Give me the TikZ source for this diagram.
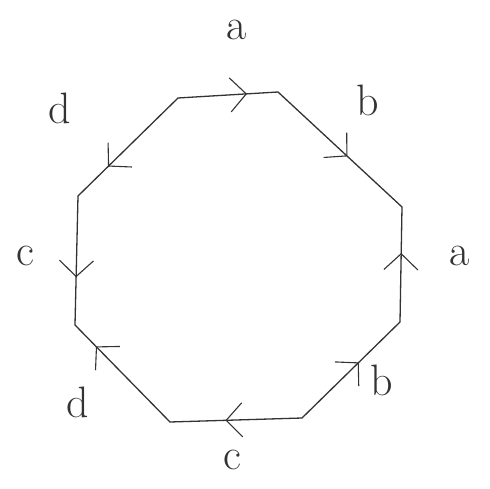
\documentclass[tikz,border=0pt]{standalone}
\usepackage{tikz}
\usetikzlibrary{arrows.meta, decorations.markings}
\tikzstyle{edge} = [draw=black!80, line width=1.3pt, line cap=round]
\tikzstyle{label} = [font=\fontsize{44}{46}\selectfont, text=black!80]
\tikzset{
  arrowat/.style={postaction={decorate}, decoration={markings,
    mark=at position #1 with {\arrow[line width=1.1pt]{Straight Barb[length=16pt, width=34pt]}}}}
}

\begin{document}
\begin{tikzpicture}[x=1pt, y=-1pt]
  \useasboundingbox (0,0) rectangle (490,489);

  % corners of the octagon
  \coordinate (v1) at (178,98);
  \coordinate (v2) at (278,92);
  \coordinate (v3) at (402,207);
  \coordinate (v4) at (400,322);
  \coordinate (v5) at (302,418);
  \coordinate (v6) at (170,422);
  \coordinate (v7) at (75,325);
  \coordinate (v8) at (78,196);

  % sides with their arrows
  \draw[edge, arrowat=0.69] (v1) -- (v2);
  \draw[edge, arrowat=0.56] (v2) -- (v3);
  \draw[edge, arrowat=0.6] (v4) -- (v3);
  \draw[edge, arrowat=0.58] (v5) -- (v4);
  \draw[edge, arrowat=0.58] (v5) -- (v6);
  \draw[edge, arrowat=0.78] (v6) -- (v7);
  \draw[edge, arrowat=0.63] (v8) -- (v7);
  \draw[edge, arrowat=0.7] (v1) -- (v8);

  % side labels
  \node[label] (la1) at (237,30) {a};
  \node[label] (lb1) at (368,100) {b};
  \node[label] (la2) at (460,256) {a};
  \node[label] (lb2) at (382,380) {b};
  \node[label] (lc1) at (232,460) {c};
  \node[label] (ld1) at (78,402) {d};
  \node[label] (lc2) at (25,256) {c};
  \node[label] (ld2) at (60,108) {d};
\end{tikzpicture}
\end{document}
